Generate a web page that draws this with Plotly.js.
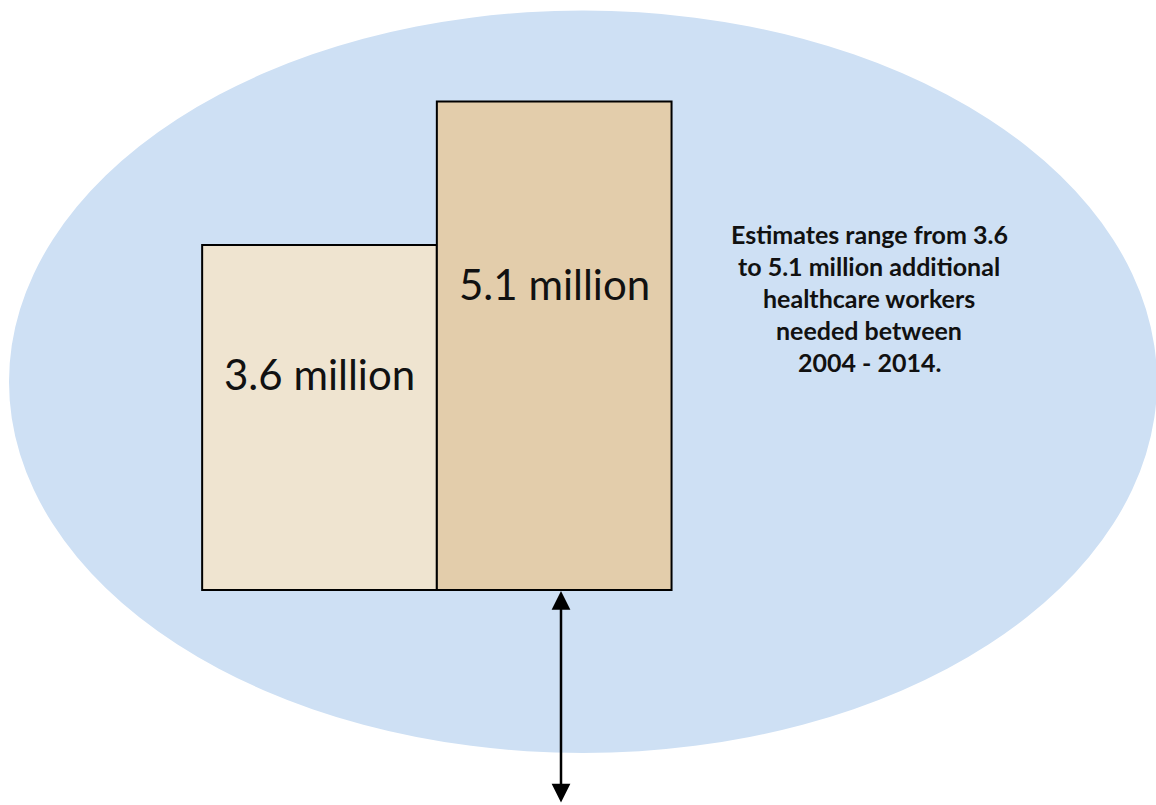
<!DOCTYPE html>
<html>
<head>
<meta charset="utf-8">
<script src="https://cdn.plot.ly/plotly-3.0.1.min.js"></script>
<style>
  html, body { margin: 0; padding: 0; background: #ffffff; }
  #chart { width: 1156px; height: 805px; }
</style>
</head>
<body>
<div id="chart"></div>
<script>
// ---- data ----
const categories = ["Low estimate", "High estimate"];
const workersMillions = [3.6, 5.1];
const barLabels = ["3.6 million", "5.1 million"];
const barColors = ["#efe4d0", "#e3cdab"];
const noteLines = [
  "Estimates range from 3.6",
  "to 5.1 million additional",
  "healthcare workers",
  "needed between",
  "2004 - 2014."
];

// ---- layout geometry (pixels) ----
const W = 1156, H = 805;
const baseY = 590;        // pixel row of value 0
const pxPerUnitY = 95.8;  // pixels per million
const firstBarCenter = 319.5;
const pxPerCat = 234.7;

const xRange = [(0 - firstBarCenter) / pxPerCat, (W - firstBarCenter) / pxPerCat];
const yRange = [(baseY - H) / pxPerUnitY, baseY / pxPerUnitY];

const trace = {
  type: "bar",
  x: categories,
  y: workersMillions,
  marker: { color: barColors, line: { color: "#000000", width: 2 } },
  hoverinfo: "skip",
  showlegend: false
};

const annotations = [];
// bar labels
categories.forEach((c, i) => {
  annotations.push({
    x: c, y: workersMillions[i] * 0.627, xref: "x", yref: "y",
    text: barLabels[i], showarrow: false,
    xanchor: "center", yanchor: "middle",
    font: { family: "Lato, 'Open Sans', sans-serif", size: 42, color: "#111111" }
  });
});
// side note
noteLines.forEach((t, i) => {
  annotations.push({
    x: 869 / W, y: 1 - (234 + 32.1 * i) / H, xref: "paper", yref: "paper",
    text: "<b>" + t + "</b>", showarrow: false,
    xanchor: "center", yanchor: "middle",
    font: { family: "Lato, 'Open Sans', sans-serif", size: 25, color: "#111111" }
  });
});
// double-headed arrow
annotations.push({
  x: 561 / W, y: 1 - 591 / H, xref: "paper", yref: "paper",
  ax: 0, ay: 213, axref: "pixel", ayref: "pixel",
  text: "", showarrow: true,
  arrowhead: 2, startarrowhead: 2, arrowside: "end+start",
  arrowsize: 1.5, startarrowsize: 1.5, arrowwidth: 2.5, arrowcolor: "#000000",
  standoff: 0, startstandoff: 0
});

const layout = {
  width: W, height: H,
  margin: { l: 0, r: 0, t: 0, b: 0, pad: 0 },
  paper_bgcolor: "#ffffff",
  plot_bgcolor: "rgba(0,0,0,0)",
  bargap: 0,
  xaxis: { type: "category", range: xRange, autorange: false, visible: false, fixedrange: true },
  yaxis: { range: yRange, autorange: false, visible: false, fixedrange: true },
  shapes: [{
    type: "circle", xref: "paper", yref: "paper", layer: "below",
    x0: 9 / W, x1: 1157 / W, y0: 1 - 753 / H, y1: 1 - 10.5 / H,
    fillcolor: "#cee0f4", line: { width: 0 }
  }],
  annotations: annotations
};

Plotly.newPlot("chart", [trace], layout, { staticPlot: true, displayModeBar: false });
</script>
</body>
</html>
